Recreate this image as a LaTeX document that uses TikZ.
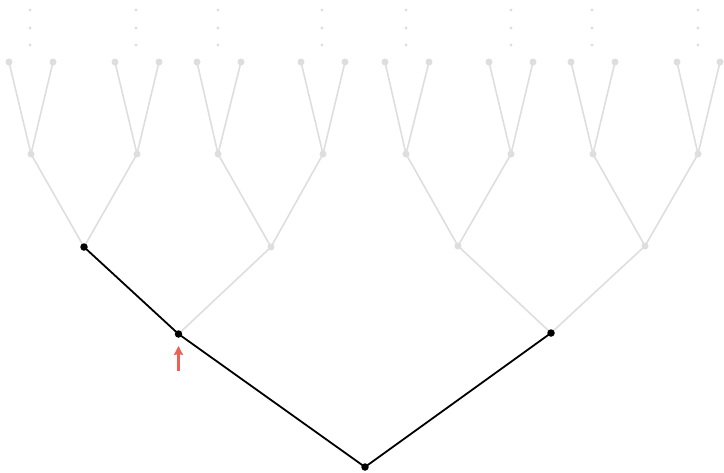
\documentclass[tikz,border=0pt]{standalone}
\usetikzlibrary{arrows.meta, backgrounds}
\definecolor{faded}{RGB}{222,222,222}
\definecolor{pointer}{RGB}{236,96,86}

\begin{document}
\begin{tikzpicture}[
    x=1pt, y=-1pt,
    dot/.style={circle, inner sep=0pt, minimum size=7pt, fill=faded},
    hot/.style={circle, inner sep=0pt, minimum size=7.5pt, fill=black},
    more/.style={circle, inner sep=0pt, minimum size=3.2pt, fill=faded},
    edge/.style={line width=1.6pt, faded},
    path/.style={line width=1.8pt, black},
    arrow/.style={-{Stealth[length=9pt, width=9pt, inset=1pt]}, line width=2.2pt, pointer},
]
\useasboundingbox (0,0) rectangle (724,472);

% Root and first level
\node[hot] (n0) at (365,467) {};
\node[hot] (a1) at (178.5,334) {};
\node[hot] (a2) at (551,333) {};

% Second level
\node[hot] (b1) at (84,247) {};
\node[dot] (b2) at (271,247) {};
\node[dot] (b3) at (458,246) {};
\node[dot] (b4) at (645,246) {};

% Third level
\foreach \i/\x in {1/31, 2/137, 3/218, 4/323, 5/406, 6/511, 7/593, 8/698}
    \node[dot] (c\i) at (\x,154) {};

% Leaves
\foreach \i/\x in {1/9, 2/53, 3/115, 4/159, 5/197, 6/241, 7/301, 8/345,
                   9/385, 10/429, 11/489, 12/533, 13/571, 14/615, 15/677, 16/720}
    \node[dot] (d\i) at (\x,62) {};

% Vertical ellipses above the leaves
\foreach \i/\x in {1/30, 2/136, 3/218, 4/322, 5/406, 6/511, 7/592, 8/698}
    \foreach \y in {10,28,45}
        \node[more] (e\i-\y) at (\x,\y) {};

% Faded edges
\begin{pgfonlayer}{background}
\draw[edge] (a1.center) -- (b2.center);
\draw[edge] (a2.center) -- (b3.center);
\draw[edge] (a2.center) -- (b4.center);
\foreach \p/\l/\r in {b1/c1/c2, b2/c3/c4, b3/c5/c6, b4/c7/c8}
    \draw[edge] (\l.center) -- (\p.center) -- (\r.center);
\foreach \p/\l/\r in {c1/d1/d2, c2/d3/d4, c3/d5/d6, c4/d7/d8,
                      c5/d9/d10, c6/d11/d12, c7/d13/d14, c8/d15/d16}
    \draw[edge] (\l.center) -- (\p.center) -- (\r.center);

% Highlighted path
\draw[path] (b1.center) -- (a1.center) -- (n0.center) -- (a2.center);
\end{pgfonlayer}

% Pointer
\coordinate (tail) at (178.5,371);
\draw[arrow] (tail) -- ([yshift=-8pt]a1.south);

\end{tikzpicture}
\end{document}
